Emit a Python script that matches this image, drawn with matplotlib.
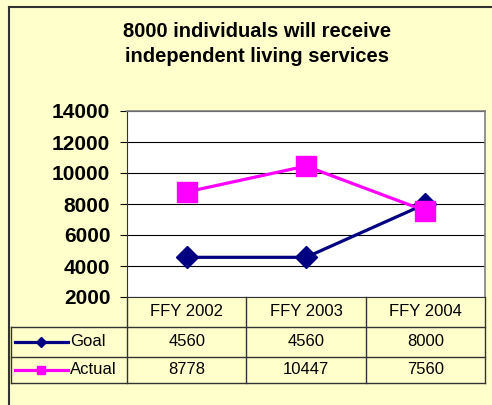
import matplotlib
matplotlib.use("Agg")
import matplotlib.pyplot as plt
from matplotlib.lines import Line2D

plt.rcParams['font.family'] = ['Liberation Sans', 'DejaVu Sans']

years = ['FFY 2002', 'FFY 2003', 'FFY 2004']
goal = [4560, 4560, 8000]
actual = [8778, 10447, 7560]
title = '8000 individuals will receive\nindependent living services'

W, H = 492, 405
bg = '#FFFFCC'
navy = '#000080'
magenta = '#FF00FF'

fig = plt.figure(figsize=(W / 100, H / 100), dpi=100, facecolor=bg)

# outer chart border (left and top visible)
fig.add_artist(Line2D([9 / W, 9 / W], [0, 1 - 7 / H], transform=fig.transFigure,
                      color='#333333', lw=1.5))
fig.add_artist(Line2D([9 / W, 1], [1 - 7 / H, 1 - 7 / H], transform=fig.transFigure,
                      color='#333333', lw=1.5))

fig.text(257 / W, 1 - 44 / H, title, ha='center', va='center', fontsize=14.5,
         fontweight='bold', linespacing=1.4)

x0, x1, ytop, ybot = 127, 485, 111, 297
ax = fig.add_axes([x0 / W, 1 - ybot / H, (x1 - x0) / W, (ybot - ytop) / H])
ax.set_facecolor('white')
xs = [i + 0.5 for i in range(len(years))]
ax.plot(xs, goal, color=navy, lw=2.3, marker='D', ms=11, zorder=3)
ax.plot(xs, actual, color=magenta, lw=2.3, marker='s', ms=15, zorder=4)
ax.set_xlim(0, 3)
ax.set_ylim(2000, 14000)
ax.set_yticks(range(2000, 14001, 2000))
ax.set_xticks([])
ax.grid(axis='y', color='black', lw=0.8)
ax.set_axisbelow(True)
for s in ['top', 'right']:
    ax.spines[s].set_color('#808080')
    ax.spines[s].set_linewidth(1.2)
ax.spines['left'].set_color('#333333')
ax.spines['bottom'].set_color('#333333')
ax.tick_params(axis='y', length=5, width=0.8, pad=7, labelsize=15)
for lab in ax.get_yticklabels():
    lab.set_fontweight('bold')

# data table below the plot
ph = ybot - ytop
def fy(py):
    return (ybot - py) / ph
def fx(px):
    return (px - x0) / (x1 - x0)

tr = ax.get_xaxis_transform()
kw = dict(clip_on=False, color='#333333', lw=1.0)
ax.plot([fx(11), 1], [fy(327), fy(327)], transform=ax.transAxes, **kw)
ax.plot([fx(11), 1], [fy(357), fy(357)], transform=ax.transAxes, **kw)
ax.plot([fx(11), 1], [fy(383), fy(383)], transform=ax.transAxes, **kw)
for xb in [0, 1, 2, 3]:
    ax.plot([xb, xb], [fy(297), fy(383)], transform=tr, **kw)
ax.plot([fx(11), fx(11)], [fy(327), fy(383)], transform=ax.transAxes, **kw)

for i, yr in enumerate(years):
    ax.text(xs[i], fy(312), yr, transform=tr, ha='center', va='center', fontsize=12)
    ax.text(xs[i], fy(342), str(goal[i]), transform=tr, ha='center', va='center', fontsize=12)
    ax.text(xs[i], fy(370), str(actual[i]), transform=tr, ha='center', va='center', fontsize=12)

# legend keys in the table
for py, col, mk, ms, name in [(342, navy, 'D', 5, 'Goal'), (370, magenta, 's', 6, 'Actual')]:
    ax.plot([fx(15), fx(68)], [fy(py), fy(py)], transform=ax.transAxes, clip_on=False,
            color=col, lw=2.3)
    ax.plot([fx(41.5)], [fy(py)], transform=ax.transAxes, clip_on=False,
            color=col, marker=mk, ms=ms)
    ax.text(fx(70), fy(py), name, transform=ax.transAxes, ha='left', va='center', fontsize=12)

fig.savefig('out.png', dpi=100, facecolor=bg)
